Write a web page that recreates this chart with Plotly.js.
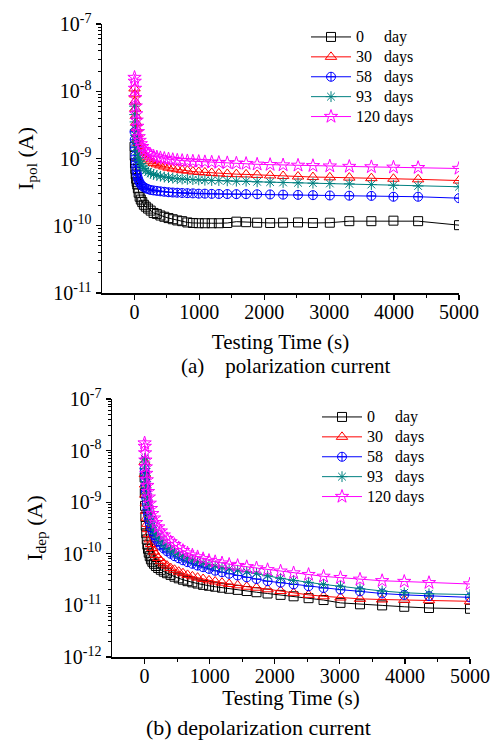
<!DOCTYPE html>
<html>
<head>
<meta charset="utf-8">
<script src="https://cdn.plot.ly/plotly-3.0.1.min.js"></script>
<style>html,body{margin:0;padding:0;background:#fff;}#chart{width:492px;height:742px;}</style>
</head>
<body>
<div id="chart"></div>
<script>
// Testing time (s)
const time = [1, 4, 8, 13, 19, 26, 34, 43, 53, 65, 80, 98, 120, 145, 175, 210, 250, 295, 345, 400, 460, 525, 590, 660, 735, 815, 900, 990, 1085, 1190, 1300, 1430, 1570, 1720, 1890, 2090, 2290, 2520, 2750, 3010, 3310, 3650, 3990, 4370, 5000];

const seriesNames = ["0\u2007\u2007 day", "30\u2007 days", "58\u2007 days", "93\u2007 days", "120 days"];

// (a) polarization current, A
const pol0 = [1.5e-9, 1.1e-9, 8.5e-10, 7e-10, 5.8e-10, 5e-10, 4.5e-10, 4.1e-10, 3.6e-10, 3.1e-10, 2.7e-10, 2.45e-10, 2.25e-10, 2.05e-10, 1.92e-10, 1.8e-10, 1.68e-10, 1.55e-10, 1.5e-10, 1.42e-10, 1.36e-10, 1.3e-10, 1.25e-10, 1.2e-10, 1.17e-10, 1.12e-10, 1.1e-10, 1.09e-10, 1.09e-10, 1.09e-10, 1.09e-10, 1.1e-10, 1.15e-10, 1.13e-10, 1.11e-10, 1.1e-10, 1.11e-10, 1.12e-10, 1.1e-10, 1.11e-10, 1.17e-10, 1.17e-10, 1.19e-10, 1.17e-10, 1.02e-10];
const pol30 = [1.1e-8, 9e-9, 7e-9, 5.5e-9, 4.3e-9, 3.4e-9, 2.8e-9, 2.3e-9, 2e-9, 1.7e-9, 1.5e-9, 1.35e-9, 1.22e-9, 1.12e-9, 1.04e-9, 9.7e-10, 9.1e-10, 8.6e-10, 8.2e-10, 7.9e-10, 7.6e-10, 7.3e-10, 7.1e-10, 6.9e-10, 6.7e-10, 6.6e-10, 6.4e-10, 6.3e-10, 6.2e-10, 6.1e-10, 6e-10, 5.9e-10, 5.85e-10, 5.8e-10, 5.7e-10, 5.6e-10, 5.5e-10, 5.4e-10, 5.3e-10, 5.25e-10, 5.2e-10, 5.1e-10, 5e-10, 4.9e-10, 4.7e-10];
const pol58 = [2.5e-9, 1.9e-9, 1.45e-9, 1.1e-9, 9e-10, 7.5e-10, 6.5e-10, 5.7e-10, 5.1e-10, 4.7e-10, 4.4e-10, 4.1e-10, 3.9e-10, 3.75e-10, 3.6e-10, 3.5e-10, 3.4e-10, 3.35e-10, 3.3e-10, 3.25e-10, 3.2e-10, 3.15e-10, 3.12e-10, 3.1e-10, 3.07e-10, 3.05e-10, 3.03e-10, 3e-10, 3e-10, 2.98e-10, 2.97e-10, 2.96e-10, 2.95e-10, 2.95e-10, 2.94e-10, 2.92e-10, 2.9e-10, 2.88e-10, 2.85e-10, 2.82e-10, 2.8e-10, 2.78e-10, 2.7e-10, 2.7e-10, 2.57e-10];
const pol93 = [6e-9, 4.5e-9, 3.5e-9, 2.7e-9, 2.2e-9, 1.8e-9, 1.5e-9, 1.3e-9, 1.15e-9, 1.02e-9, 9.2e-10, 8.4e-10, 7.7e-10, 7.1e-10, 6.7e-10, 6.3e-10, 6e-10, 5.8e-10, 5.6e-10, 5.45e-10, 5.3e-10, 5.2e-10, 5.1e-10, 5e-10, 4.95e-10, 4.9e-10, 4.85e-10, 4.8e-10, 4.75e-10, 4.7e-10, 4.7e-10, 4.65e-10, 4.6e-10, 4.6e-10, 4.5e-10, 4.45e-10, 4.4e-10, 4.35e-10, 4.3e-10, 4.25e-10, 4.2e-10, 4.1e-10, 4e-10, 3.9e-10, 3.8e-10];
const pol120 = [1.6e-8, 1.4e-8, 1.1e-8, 8e-9, 6e-9, 4.6e-9, 3.7e-9, 3e-9, 2.5e-9, 2.1e-9, 1.85e-9, 1.65e-9, 1.5e-9, 1.35e-9, 1.25e-9, 1.18e-9, 1.12e-9, 1.08e-9, 1.05e-9, 1.02e-9, 1e-9, 9.8e-10, 9.6e-10, 9.4e-10, 9.3e-10, 9.2e-10, 9.1e-10, 9e-10, 8.9e-10, 8.8e-10, 8.7e-10, 8.6e-10, 8.5e-10, 8.4e-10, 8.2e-10, 8.1e-10, 8e-10, 7.9e-10, 7.8e-10, 7.7e-10, 7.6e-10, 7.5e-10, 7.4e-10, 7.3e-10, 7.1e-10];

// (b) depolarization current, A
const dep0 = [3e-9, 1.5e-9, 8.5e-10, 5.2e-10, 3.5e-10, 2.5e-10, 1.9e-10, 1.5e-10, 1.25e-10, 1.05e-10, 9e-11, 7.8e-11, 7e-11, 6.4e-11, 5.8e-11, 5.3e-11, 4.9e-11, 4.5e-11, 4.2e-11, 3.9e-11, 3.6e-11, 3.35e-11, 3.15e-11, 2.95e-11, 2.8e-11, 2.65e-11, 2.5e-11, 2.4e-11, 2.3e-11, 2.2e-11, 2.1e-11, 2e-11, 1.9e-11, 1.8e-11, 1.7e-11, 1.6e-11, 1.5e-11, 1.38e-11, 1.27e-11, 1.12e-11, 1.05e-11, 1e-11, 9.4e-12, 8.9e-12, 8.6e-12];
const dep30 = [6e-9, 3.5e-9, 2.2e-9, 1.4e-9, 9.5e-10, 6.8e-10, 5e-10, 3.8e-10, 3e-10, 2.4e-10, 1.9e-10, 1.55e-10, 1.3e-10, 1.1e-10, 9.5e-11, 8.3e-11, 7.3e-11, 6.5e-11, 5.9e-11, 5.3e-11, 4.9e-11, 4.5e-11, 4.2e-11, 3.9e-11, 3.65e-11, 3.45e-11, 3.25e-11, 3.05e-11, 2.9e-11, 2.75e-11, 2.6e-11, 2.45e-11, 2.3e-11, 2.2e-11, 2.05e-11, 1.9e-11, 1.75e-11, 1.6e-11, 1.5e-11, 1.42e-11, 1.34e-11, 1.3e-11, 1.28e-11, 1.26e-11, 1.2e-11];
const dep58 = [4.5e-9, 3.8e-9, 2.9e-9, 2.1e-9, 1.6e-9, 1.2e-9, 9.2e-10, 7.2e-10, 5.8e-10, 4.7e-10, 3.9e-10, 3.2e-10, 2.7e-10, 2.3e-10, 1.95e-10, 1.7e-10, 1.45e-10, 1.27e-10, 1.12e-10, 1e-10, 9e-11, 8.2e-11, 7.5e-11, 6.9e-11, 6.4e-11, 5.9e-11, 5.5e-11, 5.1e-11, 4.7e-11, 4.4e-11, 4.1e-11, 3.8e-11, 3.5e-11, 3.25e-11, 2.95e-11, 2.75e-11, 2.55e-11, 2.35e-11, 2.17e-11, 2.02e-11, 1.87e-11, 1.7e-11, 1.6e-11, 1.52e-11, 1.43e-11];
const dep93 = [7e-9, 6e-9, 4.5e-9, 3.3e-9, 2.5e-9, 1.9e-9, 1.45e-9, 1.1e-9, 8.5e-10, 6.7e-10, 5.3e-10, 4.3e-10, 3.5e-10, 2.9e-10, 2.45e-10, 2.1e-10, 1.8e-10, 1.55e-10, 1.35e-10, 1.2e-10, 1.07e-10, 9.7e-11, 8.9e-11, 8.2e-11, 7.6e-11, 7.1e-11, 6.6e-11, 6.2e-11, 5.8e-11, 5.4e-11, 5.1e-11, 4.8e-11, 4.5e-11, 4.2e-11, 3.75e-11, 3.35e-11, 3.05e-11, 2.8e-11, 2.55e-11, 2.35e-11, 2.1e-11, 1.9e-11, 1.76e-11, 1.68e-11, 1.62e-11];
const dep120 = [1.4e-8, 1.2e-8, 9e-9, 6.5e-9, 4.8e-9, 3.6e-9, 2.7e-9, 2.1e-9, 1.6e-9, 1.25e-9, 9.5e-10, 7.5e-10, 6e-10, 4.9e-10, 4e-10, 3.3e-10, 2.75e-10, 2.3e-10, 1.95e-10, 1.7e-10, 1.5e-10, 1.3e-10, 1.15e-10, 1.03e-10, 9.4e-11, 8.7e-11, 8e-11, 7.4e-11, 7e-11, 6.6e-11, 6.2e-11, 5.9e-11, 5.6e-11, 5.3e-11, 4.9e-11, 4.6e-11, 4.25e-11, 3.95e-11, 3.65e-11, 3.45e-11, 3.2e-11, 3e-11, 2.9e-11, 2.75e-11, 2.6e-11];

const yTickVals = [1e-12, 1e-11, 1e-10, 1e-9, 1e-8, 1e-7];
const yTickText = ["10<sup>-12</sup>", "10<sup>-11</sup>", "10<sup>-10</sup>", "10<sup>-9</sup>", "10<sup>-8</sup>", "10<sup>-7</sup>"];
const xTickVals = [0, 1000, 2000, 3000, 4000, 5000];
const xTickText = ["0", "1000", "2000", "3000", "4000", "5000"];

const colors = ["#000000", "#ff0000", "#0000ff", "#008080", "#ff00ff"];
const symbols = ["square-open", "triangle-up-open", "circle-cross-open", "asterisk-open", "star-open"];
const sizes = [9, 10, 9, 9, 10];

const polSeries = [pol0, pol30, pol58, pol93, pol120];
const depSeries = [dep0, dep30, dep58, dep93, dep120];

const FONT = '"Liberation Serif", "Times New Roman", Times, serif';

function legendLabel(s) {
  return '<span style="font-size:16px">' + s + '</span>';
}

const traces = [];
polSeries.forEach((ys, i) => traces.push({
  type: "scatter", mode: "lines+markers", x: time, y: ys, name: legendLabel(seriesNames[i]),
  xaxis: "x", yaxis: "y", legend: "legend",
  line: {color: colors[i], width: 1},
  marker: {symbol: symbols[i], size: sizes[i], color: colors[i], line: {width: 1, color: colors[i]}}
}));
depSeries.forEach((ys, i) => traces.push({
  type: "scatter", mode: "lines+markers", x: time, y: ys, name: legendLabel(seriesNames[i]),
  xaxis: "x2", yaxis: "y2", legend: "legend2",
  line: {color: colors[i], width: 1},
  marker: {symbol: symbols[i], size: sizes[i], color: colors[i], line: {width: 1, color: colors[i]}}
}));

function minorLogVals(lo, hi) {
  const v = [];
  for (let e = lo; e < hi; e++) for (let m = 2; m <= 9; m++) v.push(m * Math.pow(10, e));
  return v;
}

function xAxis(domain, anchor, standoff) {
  return {
    domain: domain, anchor: anchor, range: [-500, 5000],
    tickmode: "array", tickvals: xTickVals, ticktext: xTickText,
    ticks: "outside", ticklen: 5, tickwidth: 1.2, tickcolor: "#000",
    ticklabelstandoff: -5,
    minor: {tickmode: "array", tickvals: [500, 1500, 2500, 3500, 4500], ticks: "outside", ticklen: 3, tickwidth: 1, tickcolor: "#000"},
    showline: true, linecolor: "#000", linewidth: 1.5, mirror: false,
    showgrid: false, zeroline: false,
    tickfont: {family: FONT, size: 20, color: "#000"},
    title: {text: "Testing Time (s)", font: {family: FONT, size: 21, color: "#000"}, standoff: standoff}
  };
}
function yAxis(domain, anchor, lo, hi, title, standoff) {
  return {
    domain: domain, anchor: anchor, type: "log", range: [lo, hi],
    tickmode: "array", tickvals: yTickVals, ticktext: yTickText,
    ticks: "outside", ticklen: 5, tickwidth: 1.2, tickcolor: "#000",
    minor: {tickmode: "array", tickvals: minorLogVals(lo, hi), ticks: "outside", ticklen: 3, tickwidth: 1, tickcolor: "#000"},
    showline: true, linecolor: "#000", linewidth: 1.5, mirror: false,
    showgrid: false, zeroline: false,
    tickfont: {family: FONT, size: 20, color: "#000"},
    title: {text: title, font: {family: FONT, size: 22, color: "#000"}, standoff: standoff}
  };
}

const NB = "\u00A0\u00A0\u00A0\u00A0";

const layout = {
  width: 492, height: 742,
  margin: {l: 0, r: 0, t: 0, b: 0},
  paper_bgcolor: "#fff", plot_bgcolor: "#fff",
  font: {family: FONT, color: "#000"},
  showlegend: true,
  xaxis: xAxis([102/492, 459/492], "y", 13),
  yaxis: yAxis([1 - 293/742, 1 - 24/742], "x", -11, -7, NB + "I<sub>pol</sub> (A)", 13),
  xaxis2: xAxis([112/492, 470/492], "y2", 5),
  yaxis2: yAxis([1 - 657/742, 1 - 399/742], "x2", -12, -7, NB + "I<sub>dep</sub> (A)", 14),
  legend: {x: 306/492, y: 1 - 22/742, xanchor: "left", yanchor: "top", bgcolor: "rgba(0,0,0,0)",
           font: {family: FONT, size: 13, color: "#000"}, tracegroupgap: 0, itemwidth: 40},
  legend2: {x: 317/492, y: 1 - 402/742, xanchor: "left", yanchor: "top", bgcolor: "rgba(0,0,0,0)",
           font: {family: FONT, size: 13, color: "#000"}, tracegroupgap: 0, itemwidth: 40},
  annotations: [
    {text: "(a)\u2007\u00A0 polarization current", x: 285/492, y: 1 - 366/742, xref: "paper", yref: "paper",
     xanchor: "center", yanchor: "middle",
     showarrow: false, font: {family: FONT, size: 21, color: "#000"}},
    {text: "(b) depolarization current", x: 258/492, y: 1 - 727/742, xref: "paper", yref: "paper",
     xanchor: "center", yanchor: "middle", borderpad: 0,
     showarrow: false, font: {family: FONT, size: 22, color: "#000"}}
  ]
};

Plotly.newPlot("chart", traces, layout, {displayModeBar: false, staticPlot: true});
</script>
</body>
</html>
